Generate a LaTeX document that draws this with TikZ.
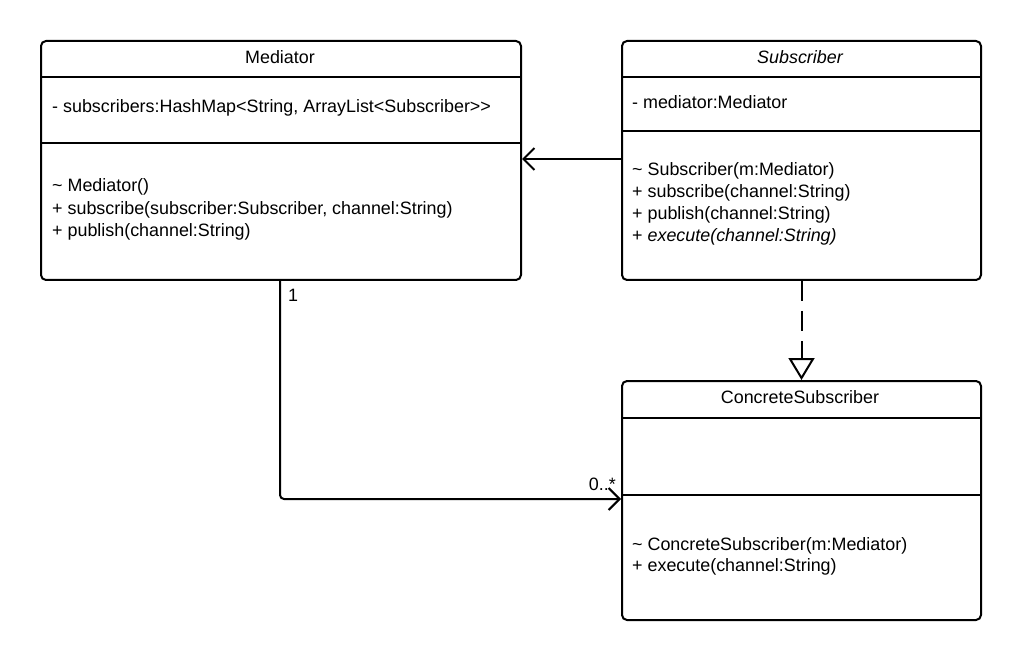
\documentclass[tikz,border=0pt]{standalone}
\usepackage{fontspec}
\setmainfont{Liberation Sans}
\usetikzlibrary{arrows.meta}
\begin{document}
\begin{tikzpicture}[x=1pt,y=-1pt,
  classbox/.style={draw, line width=2pt, rounded corners=5pt, anchor=north west, inner sep=0pt},
  sep/.style={line width=2pt},
  txt/.style={font=\fontsize{17.9}{21}\selectfont, inner sep=0pt, anchor=west},
  ttl/.style={font=\fontsize{17.9}{21}\selectfont, inner sep=0pt},
  conn/.style={line width=2pt, rounded corners=4pt},
  barb/.style={-{Straight Barb[length=11pt,width=22pt,line width=2pt]}},
  realize/.style={dash pattern=on 20pt off 10pt, -{Triangle[open,length=22pt,width=26pt,line width=2pt,fill=white]}}
]
\useasboundingbox (0,0) rectangle (1020,660);
% Mediator
\node[classbox, minimum width=480pt, minimum height=239pt] (med) at (40,40) {};
\draw[sep] (40,77) -- (520,77);
\draw[sep] (40,143) -- (520,143);
\node[ttl] (medt) at (280,57) {Mediator};
\node[txt] (meda) at (52,108) {- subscribers:HashMap<String, ArrayList<Subscriber>{}>};
\node[txt] (medm1) at (52,187) {\textasciitilde{} Mediator()};
\node[txt] (medm2) at (52,210) {+ subscribe(subscriber:Subscriber, channel:String)};
\node[txt] (medm3) at (52,232) {+ publish(channel:String)};
% Subscriber
\node[classbox, minimum width=359pt, minimum height=239pt] (sub) at (621,40) {};
\draw[sep] (621,77) -- (980,77);
\draw[sep] (621,131) -- (980,131);
\node[ttl] (subt) at (800,57) {\itshape Subscriber};
\node[txt] (suba) at (632,102) {- mediator:Mediator};
\node[txt] (subm1) at (632,171) {\textasciitilde{} Subscriber(m:Mediator)};
\node[txt] (subm2) at (632,193) {+ subscribe(channel:String)};
\node[txt] (subm3) at (632,215) {+ publish(channel:String)};
\node[txt] (subm4) at (632,237) {+ \itshape execute(channel:String)};
% ConcreteSubscriber
\node[classbox, minimum width=359pt, minimum height=239pt] (con) at (621,380) {};
\draw[sep] (621,418) -- (980,418);
\draw[sep] (621,495) -- (980,495);
\node[ttl] (cont) at (800,397) {ConcreteSubscriber};
\node[txt] (conm1) at (632,546) {\textasciitilde{} ConcreteSubscriber(m:Mediator)};
\node[txt] (conm2) at (632,567) {+ execute(channel:String)};
% connectors
\draw[line width=2pt, barb] (sub.west |- 0,159) -- (med.east |- 0,159);
\draw[line width=2pt, realize] (sub.south) -- (con.north);
\coordinate (bend) at (280,499);
\draw[conn, barb] (med.south west -| 280,0) -- (bend) -- (con.west |- bend);
\node[ttl, anchor=west] (m1) at (288,295) {1};
\node[ttl, anchor=east] (m2) at (616,484) {0..*};
\end{tikzpicture}
\end{document}
